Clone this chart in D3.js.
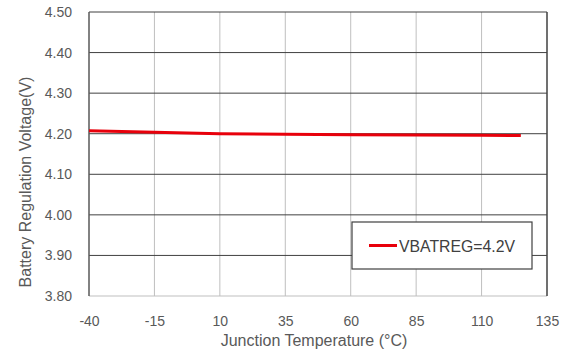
<!DOCTYPE html>
<html><head><meta charset="utf-8">
<script src="https://cdn.jsdelivr.net/npm/d3@7"></script>
<style>body{margin:0;background:#fff}svg{display:block;font-family:"Liberation Sans",Arial,sans-serif}</style>
</head><body>
<svg id="c" width="569" height="354"></svg>
<script>
const temps = [-40, -15, 10, 35, 60, 85, 110, 125];
const vbat = [4.207, 4.2035, 4.2, 4.1985, 4.1975, 4.197, 4.196, 4.1955];
const xTicks = [-40, -15, 10, 35, 60, 85, 110, 135];
const yTicks = [3.8, 3.9, 4.0, 4.1, 4.2, 4.3, 4.4, 4.5];
const seriesName = "VBATREG=4.2V";

const svg = d3.select("#c");
const L = 89, R = 547, T = 12, B = 296;
const x = d3.scaleLinear().domain([-40, 135]).range([L, R]);
const y = d3.scaleLinear().domain([3.8, 4.5]).range([B, T]);

// vertical grid
svg.append("g").selectAll("line").data(xTicks.slice(1, -1)).join("line")
  .attr("x1", d => x(d)).attr("x2", d => x(d)).attr("y1", T).attr("y2", B)
  .attr("stroke", "#bfbfbf").attr("stroke-width", 1);
// horizontal grid
svg.append("g").selectAll("line").data(yTicks.slice(1)).join("line")
  .attr("x1", L).attr("x2", R).attr("y1", d => y(d)).attr("y2", d => y(d))
  .attr("stroke", "#404040").attr("stroke-width", 1);
// bottom
svg.append("line").attr("x1", L).attr("x2", R).attr("y1", B).attr("y2", B)
  .attr("stroke", "#bfbfbf");
// left and right
svg.append("line").attr("x1", L).attr("x2", L).attr("y1", T).attr("y2", B).attr("stroke", "#595959").attr("stroke-width", 1.5);
svg.append("line").attr("x1", R).attr("x2", R).attr("y1", T).attr("y2", B).attr("stroke", "#404040").attr("stroke-width", 1.5);

// y axis labels
const yAxis = d3.axisLeft(y).tickValues(yTicks).tickFormat(d3.format(".2f")).tickSize(0).tickPadding(17);
const gy = svg.append("g").attr("transform", `translate(${L},0)`).call(yAxis);
gy.select(".domain").remove();
gy.selectAll("text").attr("fill", "#595959").style("font-size", "14px");

const xAxis = d3.axisBottom(x).tickValues(xTicks).tickFormat(d => String(d)).tickSize(0).tickPadding(20);
const gx = svg.append("g").attr("transform", `translate(0,${B})`).call(xAxis);
gx.select(".domain").remove();
gx.selectAll("text").attr("fill", "#595959").style("font-size", "14px");

// line
svg.append("path").datum(temps.map((t, i) => [t, vbat[i]]))
  .attr("d", d3.line().x(d => x(d[0])).y(d => y(d[1])))
  .attr("fill", "none").attr("stroke", "#e8000b").attr("stroke-width", 3);

// titles
svg.append("text").attr("x", 314).attr("y", 346).attr("text-anchor", "middle")
  .attr("fill", "#595959").style("font-size", "16px").text("Junction Temperature (°C)");
svg.append("text").attr("transform", `translate(31,182) rotate(-90)`).attr("text-anchor", "middle")
  .attr("fill", "#595959").style("font-size", "16px").text("Battery Regulation Voltage(V)");

// legend
const lg = svg.append("g");
lg.append("rect").attr("x", 352).attr("y", 222).attr("width", 180).attr("height", 47)
  .attr("fill", "#fff").attr("stroke", "#404040").attr("stroke-width", 1.2);
lg.append("line").attr("x1", 369).attr("x2", 397).attr("y1", 245.5).attr("y2", 245.5)
  .attr("stroke", "#e8000b").attr("stroke-width", 3);
lg.append("text").attr("x", 399).attr("y", 251.5).attr("fill", "#404040").style("font-size", "15.8px").text(seriesName);
</script>
</body></html>
